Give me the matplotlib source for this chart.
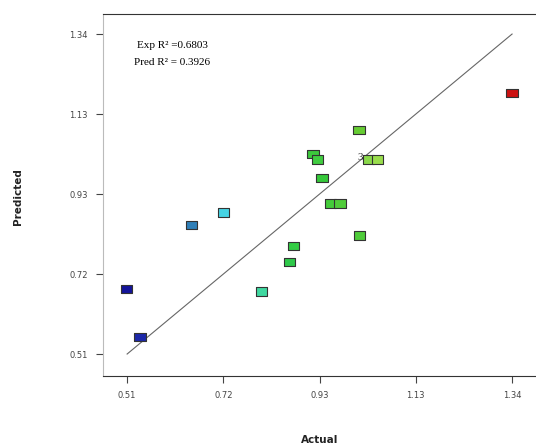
import numpy as np
import matplotlib.pyplot as plt

# actual vs predicted values
actual = [0.508, 0.538, 0.649, 0.718, 0.800, 0.860, 0.868, 0.911, 0.920, 0.930,
          0.948, 0.969, 1.011, 1.010, 1.030, 1.050, 1.340]
predicted = [0.678, 0.554, 0.844, 0.877, 0.672, 0.749, 0.791, 1.029, 1.015, 0.966,
             0.900, 0.900, 0.817, 1.091, 1.015, 1.015, 1.187]
colors = ['#14149a', '#1c28a8', '#2f7fb8', '#46d4e4', '#3fd8a0', '#2fc94a', '#33cc44',
          '#3cc83c', '#40cc40', '#35c83a', '#44cc3a', '#50cc3a', '#4fcc3a', '#66cc33',
          '#8ad84a', '#99dd4c', '#cc1111']

tick_vals = np.linspace(0.51, 1.34, 5)
tick_labels = ['0.51', '0.72', '0.93', '1.13', '1.34']

fig = plt.figure(figsize=(5.36, 4.48), dpi=100)
ax = fig.add_axes([103 / 536, 72 / 448, 442 / 536, 362 / 448])

ax.plot([0.51, 1.34], [0.51, 1.34], color='#666666', lw=0.8, zorder=1)

rect = [(-1.35, -1), (1.35, -1), (1.35, 1), (-1.35, 1), (-1.35, -1)]
ax.scatter(actual, predicted, marker=rect, s=66, c=colors, edgecolors='#333333',
           linewidths=0.8, zorder=3)
ax.text(1.019, 1.02, '3', fontsize=8, ha='right', va='center', color='#333333',
        family='Liberation Serif')

ax.text(0.531, 1.310, 'Exp R² =0.6803', fontsize=8, family='Liberation Serif',
        va='center')
ax.text(0.525, 1.265, 'Pred R² = 0.3926', fontsize=8, family='Liberation Serif',
        va='center')

ax.set_xlim(0.458, 1.411)
ax.set_ylim(0.453, 1.392)
ax.set_xticks(tick_vals)
ax.set_xticklabels(tick_labels)
ax.set_yticks(tick_vals)
ax.set_yticklabels(tick_labels)
ax.tick_params(labelsize=6, length=5, width=0.8, colors='#444444', pad=6)

for side in ['top', 'bottom']:
    ax.spines[side].set_color('#333333')
ax.spines['left'].set_color('#bbbbbb')
ax.spines['right'].set_visible(False)

fig.text(320 / 536, 1 - 440 / 448, 'Actual', ha='center', va='center', fontsize=7.5,
         fontweight='bold', color='#222222')
fig.text(18 / 536, 1 - 197 / 448, 'Predicted', ha='center', va='center', fontsize=7.5,
         fontweight='bold', rotation=90, color='#222222')

fig.savefig('out.png', dpi=100)
